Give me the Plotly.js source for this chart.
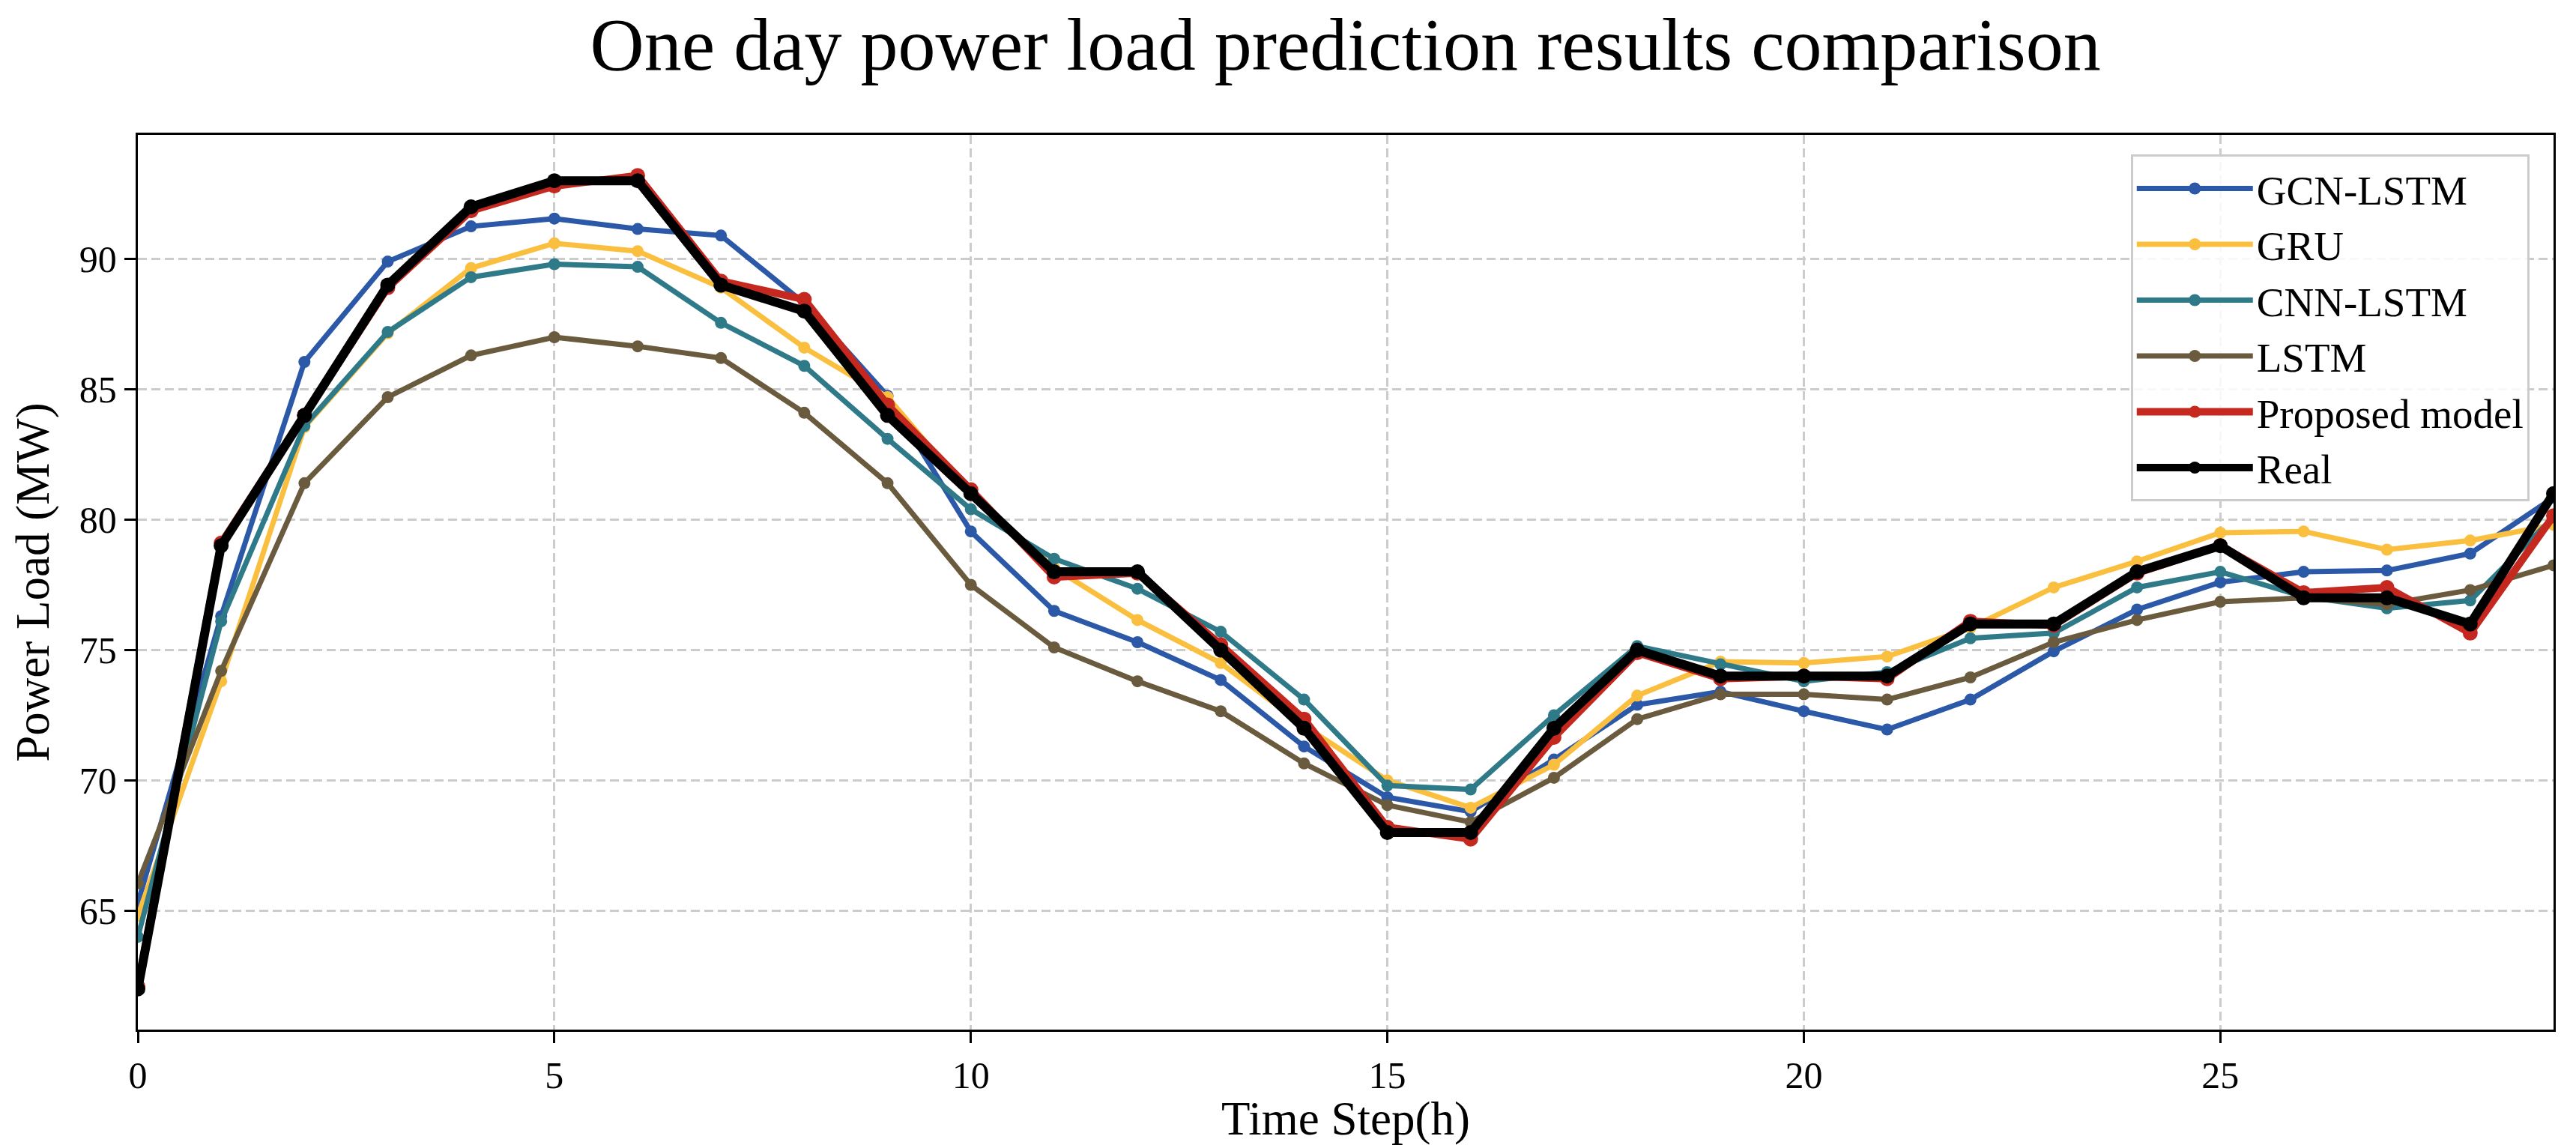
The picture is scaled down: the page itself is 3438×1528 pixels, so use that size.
<!DOCTYPE html>
<html>
<head>
<meta charset="utf-8">
<script src="https://cdn.plot.ly/plotly-3.0.1.min.js"></script>
<style>
  html, body { margin: 0; padding: 0; background: #ffffff; }
  #chart { width: 3438px; height: 1528px; }
</style>
</head>
<body>
<div id="chart"></div>
<script>
// ---- data ----
const steps = [0,1,2,3,4,5,6,7,8,9,10,11,12,13,14,15,16,17,18,19,20,21,22,23,24,25,26,27,28,29];

const gcnLstm = [65.3,76.3,86.05,89.9,91.25,91.55,91.15,90.9,88.3,84.75,79.55,76.5,75.3,73.85,71.3,69.35,68.8,70.8,72.9,73.4,72.65,71.95,73.1,74.95,76.55,77.6,78.0,78.05,78.7,80.85];
const gru = [64.8,73.8,83.55,87.15,89.65,90.6,90.3,88.9,86.6,84.7,80.95,78.15,76.15,74.5,72.1,70.0,68.95,70.6,73.25,74.55,74.5,74.75,75.85,77.4,78.4,79.5,79.55,78.85,79.2,79.8];
const cnnLstm = [64.0,76.1,83.6,87.2,89.3,89.8,89.7,87.55,85.9,83.1,80.4,78.5,77.35,75.7,73.1,69.8,69.65,72.5,75.15,74.45,73.8,74.15,75.45,75.65,77.4,78.0,77.05,76.6,76.9,80.1];
const lstm = [66.05,74.2,81.4,84.7,86.3,87.0,86.65,86.2,84.1,81.4,77.5,75.1,73.8,72.65,70.65,69.05,68.4,70.1,72.35,73.3,73.3,73.1,73.95,75.3,76.15,76.85,77.0,76.75,77.3,78.25];
const proposed = [62.1,79.1,84.0,88.9,91.85,92.8,93.2,89.15,88.45,84.4,81.15,77.8,77.95,75.2,72.35,68.2,67.75,71.65,74.9,73.9,74.0,73.9,76.1,75.95,77.95,79.0,77.2,77.4,75.65,80.15];
const realLoad = [62,79,84,89,92,93,93,89,88,84,81,78,78,75,72,68,68,72,75,74,74,74,76,76,78,79,77,77,76,81];

const seriesNames = ["GCN-LSTM","GRU","CNN-LSTM","LSTM","Proposed model","Real"];
const xTickVals = [0,5,10,15,20,25];
const yTickVals = [65,70,75,80,85,90];

const chartTitle = "One day power load prediction results comparison";
const xTitle = "Time Step(h)";
const yTitle = "Power Load (MW)";

// ---- styling ----
const seriesValues = [gcnLstm, gru, cnnLstm, lstm, proposed, realLoad];
const colors = ["#2C58A8","#FBBF3F","#2F7A89","#6B5B3E","#C5281F","#000000"];
const widths = [7, 7, 7, 7, 10, 12];
const msizes = [16, 16, 16, 16, 20, 20];

const FONT = "'Liberation Serif', 'Times New Roman', Times, serif";

const traces = seriesValues.map((vals, i) => ({
  type: "scatter",
  mode: "lines+markers",
  name: seriesNames[i],
  x: steps,
  y: vals,
  line: { color: colors[i], width: widths[i] },
  marker: { color: colors[i], size: msizes[i] },
  cliponaxis: true
}));

// y range like matplotlib autoscale (5% margin)
const allVals = [].concat(...seriesValues);
const yMin = Math.min(...allVals), yMax = Math.max(...allVals);
const pad = 0.05 * (yMax - yMin);

const layout = {
  width: 3438,
  height: 1528,
  paper_bgcolor: "#ffffff",
  plot_bgcolor: "#ffffff",
  margin: { l: 184, r: 30, t: 180, b: 154, pad: 0 },
  font: { family: FONT, color: "#000000", size: 50 },
  title: {
    text: chartTitle,
    font: { family: FONT, size: 100, color: "#000000" },
    x: 0.5223, xanchor: "center",
    y: 0.962, yanchor: "middle"
  },
  showlegend: true,
  legend: {
    x: 0.990, xanchor: "right",
    y: 0.978, yanchor: "top",
    bgcolor: "rgba(255,255,255,0.85)",
    bordercolor: "#cccccc",
    borderwidth: 3,
    font: { family: FONT, size: 55, color: "#000000" },
    itemwidth: 155,
    tracegroupgap: 0
  },
  xaxis: {
    range: [steps[0], steps[steps.length - 1]],
    tickmode: "array",
    tickvals: xTickVals,
    ticktext: xTickVals.map(String),
    ticks: "outside", ticklen: 15, tickwidth: 3, tickcolor: "#000000",
    tickfont: { family: FONT, size: 50, color: "#000000" },
    showline: true, linecolor: "#000000", linewidth: 3.3, mirror: true,
    showgrid: true, gridcolor: "#cccccc", gridwidth: 3, griddash: "12px,6px",
    zeroline: false,
    title: { text: xTitle, font: { family: FONT, size: 63, color: "#000000" }, standoff: 0 },
    automargin: false
  },
  yaxis: {
    range: [yMin - pad, yMax + pad],
    tickmode: "array",
    tickvals: yTickVals,
    ticktext: yTickVals.map(String),
    ticks: "outside", ticklen: 15, tickwidth: 3, tickcolor: "#000000",
    tickfont: { family: FONT, size: 50, color: "#000000" },
    showline: true, linecolor: "#000000", linewidth: 3.3, mirror: true,
    showgrid: true, gridcolor: "#cccccc", gridwidth: 3, griddash: "12px,6px",
    zeroline: false,
    title: { text: yTitle, font: { family: FONT, size: 63, color: "#000000" }, standoff: 20 },
    automargin: false
  }
};

Plotly.newPlot("chart", traces, layout, { staticPlot: true, displayModeBar: false });
</script>
</body>
</html>
